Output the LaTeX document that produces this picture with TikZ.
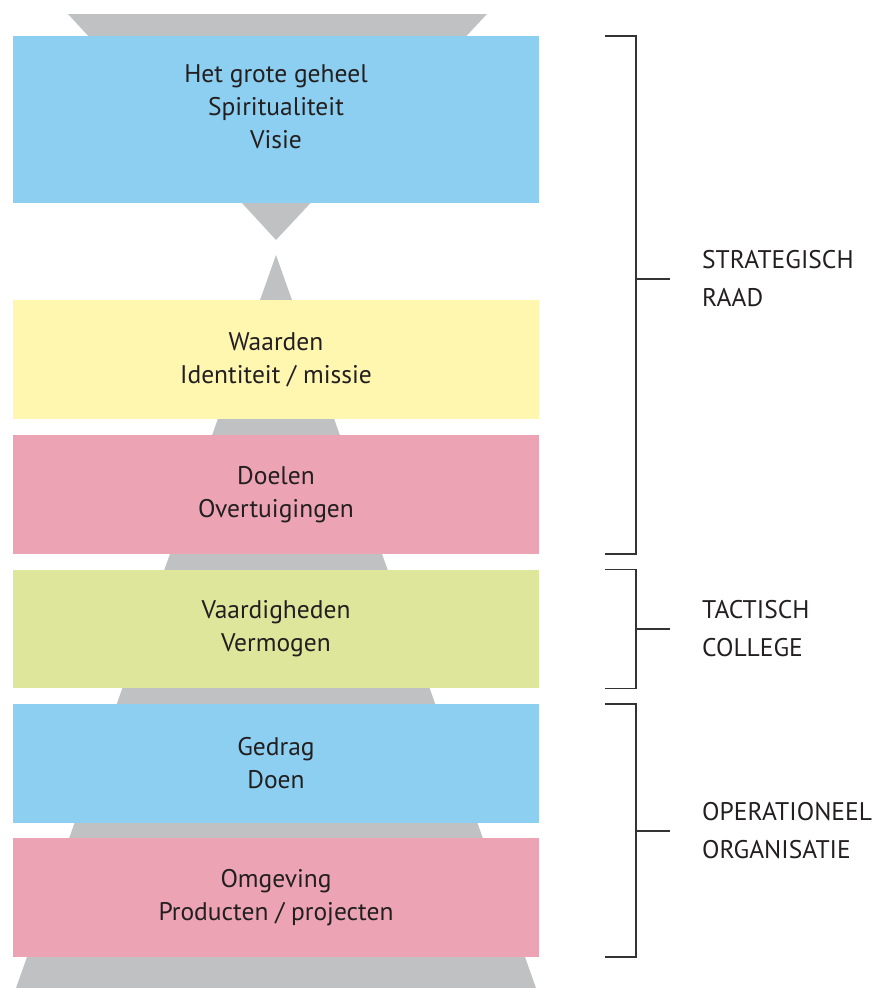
\documentclass[tikz,border=0pt]{standalone}
\usepackage{fontspec}
\setmainfont{PT Sans}
\usetikzlibrary{positioning}
\definecolor{myblue}{RGB}{141,207,240}
\definecolor{myyellow}{RGB}{255,247,176}
\definecolor{mypink}{RGB}{236,164,181}
\definecolor{mygreen}{RGB}{221,230,154}
\definecolor{mygray}{RGB}{192,193,195}
\definecolor{mytext}{RGB}{35,31,32}

\begin{document}
\begin{tikzpicture}[x=1pt, y=-1pt,
    box/.style={minimum width=526pt, minimum height=118.5pt, inner sep=0pt, align=center, font=\fontsize{25.5}{33}\selectfont, text=mytext},
    box_text/.style={inner sep=0pt, align=center, font=\fontsize{25.5}{33}\selectfont, text=mytext},
    bracket/.style={draw=black!80, line width=1.6pt},
    group_label/.style={font=\fontsize{25.5}{38}\selectfont, align=left, text=mytext}
]
    \useasboundingbox (0,0) rectangle (880,988);

    % grey funnel and pyramid behind the boxes
    \fill[mygray] (68,14) -- (487,14) -- (276,240) -- cycle;
    \fill[mygray] (276,255) -- (536,988) -- (16,988) -- cycle;

    % Top box - text sits above its centre
    \node[box, fill=myblue, minimum height=167pt] (geheel) at (276,119.5) {};
    \node[box_text] (geheel_text) at ([yshift=12.5pt]geheel.center) {Het grote geheel\\Spiritualiteit\\Visie};

    % The other boxes, stacked
    \node[box, fill=myyellow, below=97pt of geheel] (waarden) {Waarden\\Identiteit / missie};
    \node[box, fill=mypink, below=16pt of waarden] (doelen) {Doelen\\Overtuigingen};
    \node[box, fill=mygreen, below=15.5pt of doelen] (vaardigheden) {Vaardigheden\\Vermogen};
    \node[box, fill=myblue, below=15.5pt of vaardigheden] (gedrag) {Gedrag\\Doen};
    \node[box, fill=mypink, below=15pt of gedrag] (omgeving) {Omgeving\\Producten / projecten};

    % Brackets on the right
    \draw[bracket] ([xshift=66pt]geheel.north east) -- ++(31,0) |- ([xshift=66pt]doelen.south east);
    \draw[bracket] ([xshift=66pt]vaardigheden.north east) -- ++(31,0) |- ([xshift=66pt]vaardigheden.south east);
    \draw[bracket] ([xshift=66pt]gedrag.north east) -- ++(31,0) |- ([xshift=66pt]omgeving.south east);

    % Ticks and labels
    \coordinate (strat_tick) at (636,279);
    \coordinate (tact_tick) at (636,629);
    \coordinate (oper_tick) at (636,831);
    \draw[bracket] (strat_tick) -- ++(34,0) node[group_label, right=28pt] (strat_label) {STRATEGISCH\\RAAD};
    \draw[bracket] (tact_tick) -- ++(34,0) node[group_label, right=28pt] (tact_label) {TACTISCH\\COLLEGE};
    \draw[bracket] (oper_tick) -- ++(34,0) node[group_label, right=28pt] (oper_label) {OPERATIONEEL\\ORGANISATIE};

\end{tikzpicture}
\end{document}
